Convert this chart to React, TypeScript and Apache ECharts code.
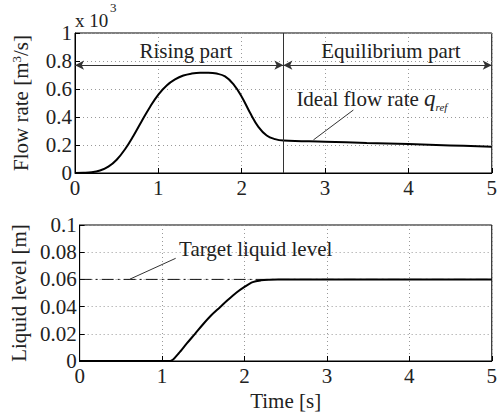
import React, { useEffect, useRef } from 'react';
import * as echarts from 'echarts';

const flowTime = [0, 0.1, 0.2, 0.3, 0.4, 0.5, 0.6, 0.7, 0.8, 0.9, 1.0, 1.1, 1.2, 1.3, 1.4, 1.5, 1.6, 1.7, 1.8, 1.9, 2.0, 2.1, 2.2, 2.3, 2.4, 2.5, 3.0, 3.5, 4.0, 4.5, 5.0];
const flowRate = [0, 0.001, 0.005, 0.018, 0.045, 0.095, 0.17, 0.265, 0.37, 0.472, 0.56, 0.625, 0.668, 0.696, 0.71, 0.716, 0.716, 0.71, 0.69, 0.635, 0.545, 0.43, 0.33, 0.268, 0.242, 0.232, 0.224, 0.215, 0.207, 0.197, 0.188];

const levelTime = [0, 0.5, 1.0, 1.1, 1.2, 1.3, 1.4, 1.5, 1.6, 1.7, 1.8, 1.9, 2.0, 2.1, 2.2, 2.3, 2.4, 2.5, 3.0, 4.0, 5.0];
const levelValue = [0, 0, 0, 0, 0.0055, 0.0129, 0.02, 0.0272, 0.0338, 0.0394, 0.045, 0.0502, 0.0545, 0.058, 0.0593, 0.0598, 0.06, 0.06, 0.06, 0.06, 0.06];

const targetTime = [0, 5];
const targetLevel = [0.06, 0.06];

const FONT = "'Liberation Serif', 'Times New Roman', serif";
const TXT = '#222';

export default function App() {
  const ref = useRef<HTMLDivElement>(null);
  useEffect(() => {
    const chart = echarts.init(ref.current!, null, { renderer: 'svg' });
    const xAxisCommon = (gi: number, withName: boolean) => ({
      type: 'value',
      gridIndex: gi,
      min: 0,
      max: 5,
      interval: 1,
      name: withName ? 'Time [s]' : '',
      nameLocation: 'middle',
      nameGap: 29,
      nameTextStyle: { fontFamily: FONT, fontSize: 21, color: TXT, fontWeight: 'normal' },
      axisLine: { lineStyle: { color: '#000', width: 1 } },
      axisTick: { inside: true, length: 5, lineStyle: { color: '#000' } },
      axisLabel: { fontFamily: FONT, fontSize: 21, color: TXT, margin: 4 },
      splitLine: { show: true, lineStyle: { color: '#999', type: [1, 3], width: 1 } },
    });
    const yAxisCommon = (gi: number, max: number, interval: number, name: string, rich: any) => ({
      type: 'value',
      gridIndex: gi,
      min: 0,
      max,
      interval,
      name,
      nameLocation: 'middle',
      nameGap: 44,
      nameTextStyle: { fontFamily: FONT, fontSize: 21, color: TXT, rich },
      axisLine: { show: true, lineStyle: { color: '#000', width: 1 } },
      axisTick: { show: true, inside: true, length: 5, lineStyle: { color: '#000' } },
      axisLabel: { fontFamily: FONT, fontSize: 21, color: TXT, margin: 3 },
      splitLine: { show: true, lineStyle: { color: '#999', type: [1, 3], width: 1 } },
    });

    const option: any = {
      animation: false,
      textStyle: { fontFamily: FONT },
      grid: [
        { left: 75, top: 33, width: 422, height: 140, show: true, borderColor: '#000', borderWidth: 1 },
        { left: 75, top: 225, width: 422, height: 140, show: true, borderColor: '#000', borderWidth: 1 },
      ],
      xAxis: [xAxisCommon(0, false), xAxisCommon(1, true)],
      yAxis: [
        yAxisCommon(0, 1, 0.2, 'Flow rate [m{sup|3}/s]', {
          sup: { fontFamily: FONT, fontSize: 13, color: TXT, verticalAlign: 'top', padding: [0, 0, 8, 0] },
        }),
        yAxisCommon(1, 0.1, 0.02, 'Liquid level [m]', {}),
      ],
      graphic: [
        { type: 'text', left: 75, top: 11, style: { text: 'x 10', fontFamily: FONT, fontSize: 19, fill: TXT } },
        { type: 'text', left: 110, top: 1, style: { text: '3', fontFamily: FONT, fontSize: 13, fill: TXT } },
      ],
      series: [
        {
          type: 'line',
          xAxisIndex: 0,
          yAxisIndex: 0,
          data: flowTime.map((t, i) => [t, flowRate[i]]),
          showSymbol: false,
          smooth: 0.4,
          lineStyle: { color: '#000', width: 2 },
          silent: true,
          markLine: {
            silent: true,
            symbol: ['arrow', 'arrow'],
            symbolSize: [7, 9],
            label: { show: false },
            lineStyle: { color: '#333', width: 1, type: 'solid' },
            data: [
              [{ coord: [0, 0.77] }, { coord: [2.5, 0.77] }],
              [{ coord: [2.5, 0.77] }, { coord: [5, 0.77] }],
              [{ coord: [2.5, 0], symbol: 'none' }, { coord: [2.5, 1], symbol: 'none' }],
              [{ coord: [2.86, 0.236], symbol: 'none' }, { coord: [3.34, 0.45], symbol: 'none' }],
            ],
          },
          markPoint: {
            silent: true,
            symbol: 'circle',
            symbolSize: 1,
            itemStyle: { color: 'transparent' },
            data: [
              {
                coord: [1.33, 0.87],
                label: { show: true, position: 'inside', formatter: 'Rising part', fontFamily: FONT, fontSize: 21, color: TXT },
              },
              {
                coord: [3.79, 0.87],
                label: { show: true, position: 'inside', formatter: 'Equilibrium part', fontFamily: FONT, fontSize: 21, color: TXT },
              },
              {
                coord: [2.65, 0.53],
                label: {
                  show: true,
                  position: 'right',
                  distance: 0,
                  formatter: 'Ideal flow rate {q|q}{r|ref}',
                  fontFamily: FONT,
                  fontSize: 21,
                  color: TXT,
                  rich: {
                    q: { fontFamily: FONT, fontSize: 23, fontStyle: 'italic', color: TXT },
                    r: { fontFamily: FONT, fontSize: 11, fontStyle: 'italic', color: TXT, verticalAlign: 'bottom', padding: [0, 0, -2, 0] },
                  },
                },
              },
            ],
          },
        },
        {
          type: 'line',
          xAxisIndex: 1,
          yAxisIndex: 1,
          data: targetTime.map((t, i) => [t, targetLevel[i]]),
          showSymbol: false,
          lineStyle: { color: '#111', width: 1, type: [12, 4, 2, 4] },
          silent: true,
          markLine: {
            silent: true,
            symbol: 'none',
            label: { show: false },
            lineStyle: { color: '#333', width: 1, type: 'solid' },
            data: [[{ coord: [0.61, 0.0602] }, { coord: [1.165, 0.0755] }]],
          },
          markPoint: {
            silent: true,
            symbol: 'circle',
            symbolSize: 1,
            itemStyle: { color: 'transparent' },
            data: [
              {
                coord: [1.2, 0.082],
                label: { show: true, position: 'right', distance: 0, formatter: 'Target liquid level', fontFamily: FONT, fontSize: 21, color: TXT },
              },
            ],
          },
        },
        {
          type: 'line',
          xAxisIndex: 1,
          yAxisIndex: 1,
          data: levelTime.map((t, i) => [t, levelValue[i]]),
          showSymbol: false,
          smooth: 0.3,
          lineStyle: { color: '#000', width: 2 },
          silent: true,
        },
      ],
    };
    chart.setOption(option);
    return () => chart.dispose();
  }, []);
  return <div ref={ref} style={{ position: 'absolute', left: 0, top: 0, width: 500, height: 412 }} />;
}
